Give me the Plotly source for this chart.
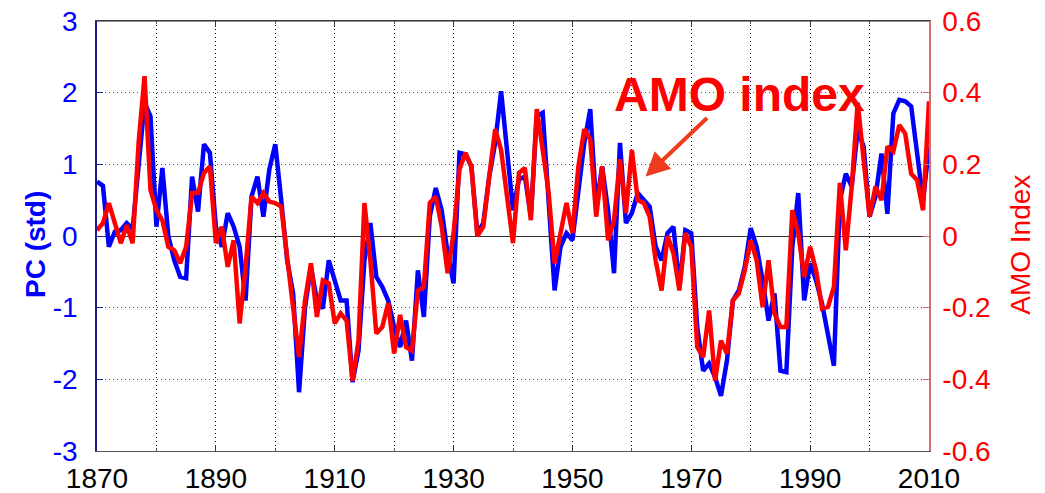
import plotly.graph_objects as go

years = list(range(1870, 2011))

pc_std = [
    0.76, 0.70, -0.15, 0.06, 0.08, 0.18, 0.10, 1.06, 1.86, 1.67,
    0.13, 0.95, 0.00, -0.34, -0.57, -0.59, 0.83, 0.34, 1.28, 1.16,
    0.13, -0.15, 0.32, 0.13, -0.15, -0.90, 0.55, 0.83, 0.27, 0.93,
    1.28, 0.50, -0.34, -0.80, -2.18, -1.00, -0.43, -0.90, -1.01, -0.34,
    -0.62, -0.90, -0.90, -2.04, -1.60, -0.34, 0.18, -0.57, -0.71, -0.90,
    -1.27, -1.55, -1.18, -1.74, -0.48, -1.13, 0.27, 0.67, 0.36, -0.24,
    -0.66, 1.16, 1.14, 0.97, 0.04, 0.18, 0.83, 1.30, 2.02, 1.20,
    0.36, 0.79, 0.83, 0.27, 1.67, 1.72, 0.50, -0.76, -0.15, 0.04,
    -0.06, 0.69, 1.30, 1.77, 0.41, 0.97, 0.36, -0.52, 1.30, 0.18,
    0.32, 0.60, 0.50, 0.41, -0.15, -0.34, 0.04, 0.13, -0.71, 0.08,
    0.04, -1.27, -1.88, -1.78, -1.97, -2.23, -1.74, -0.90, -0.76, -0.43,
    0.11, -0.15, -0.62, -1.18, -0.80, -1.88, -1.90, -0.15, 0.60, -0.90,
    -0.38, -0.62, -0.94, -1.36, -1.81, 0.50, 0.87, 0.69, 1.48, 1.25,
    0.27, 0.55, 1.15, 0.31, 1.71, 1.90, 1.88, 1.81, 1.15, 0.50,
    1.25,
]

amo_index = [
    0.016, 0.036, 0.092, 0.036, -0.020, 0.030, -0.020, 0.260, 0.446, 0.128,
    0.072, 0.044, -0.030, -0.040, -0.076, -0.030, 0.120, 0.120, 0.176, 0.194,
    -0.020, 0.026, -0.086, -0.012, -0.244, -0.086, 0.110, 0.092, 0.120, 0.096,
    0.092, 0.082, -0.068, -0.200, -0.338, -0.180, -0.076, -0.226, -0.124, -0.132,
    -0.244, -0.216, -0.236, -0.404, -0.292, 0.092, -0.068, -0.272, -0.254, -0.188,
    -0.328, -0.220, -0.310, -0.320, -0.152, -0.142, 0.092, 0.110, 0.026, -0.104,
    0.008, 0.186, 0.232, 0.194, 0.000, 0.026, 0.166, 0.298, 0.240, 0.120,
    -0.020, 0.176, 0.190, 0.044, 0.354, 0.240, 0.120, -0.076, 0.008, 0.092,
    0.008, 0.194, 0.298, 0.270, 0.054, 0.194, -0.012, 0.044, 0.214, 0.064,
    0.240, 0.100, 0.092, 0.054, -0.068, -0.152, 0.000, -0.048, -0.152, 0.008,
    -0.030, -0.310, -0.338, -0.208, -0.404, -0.292, -0.328, -0.180, -0.160, -0.096,
    -0.012, -0.068, -0.198, -0.068, -0.216, -0.254, -0.254, 0.072, 0.008, -0.114,
    -0.030, -0.096, -0.202, -0.198, -0.142, 0.148, -0.040, 0.138, 0.372, 0.202,
    0.054, 0.138, 0.100, 0.250, 0.236, 0.310, 0.286, 0.174, 0.156, 0.072,
    0.376,
]

x_ticks = [1870, 1890, 1910, 1930, 1950, 1970, 1990, 2010]
left_ticks = [-3, -2, -1, 0, 1, 2, 3]
left_labels = ["-3", "-2", "-1", "0", "1", "2", "3"]
right_ticks = [-0.6, -0.4, -0.2, 0, 0.2, 0.4, 0.6]
right_labels = ["-0.6", "-0.4", "-0.2", "0", "0.2", "0.4", "0.6"]

FONT = "Liberation Sans, Arial, Helvetica, sans-serif"
BLUE = "#0000ff"
RED = "#ff0000"

fig = go.Figure()
fig.add_trace(go.Scatter(x=years, y=pc_std, mode="lines", name="PC",
                         line=dict(color=BLUE, width=4.5), yaxis="y"))
fig.add_trace(go.Scatter(x=years, y=amo_index, mode="lines", name="AMO",
                         line=dict(color=RED, width=4.5), yaxis="y2"))

fig.update_layout(
    width=1045, height=493,
    margin=dict(l=97, r=116, t=21, b=42, autoexpand=False),
    paper_bgcolor="white", plot_bgcolor="white",
    showlegend=False,
    font=dict(family=FONT, size=28, color="black"),
    xaxis=dict(
        range=[1870, 2010], tickvals=x_ticks, ticktext=[str(v) for v in x_ticks],
        showgrid=True, gridcolor="#000000", griddash="1px,3px", gridwidth=1,
        minor=dict(dtick=10, tick0=1870, showgrid=True, gridcolor="#000000",
                   griddash="1px,3px", gridwidth=1, ticks="inside", ticklen=3,
                   tickcolor="#555555"),
        ticks="inside", ticklen=6, tickcolor="#333333",
        showline=True, linecolor="#555555", linewidth=1, mirror="ticks",
        zeroline=False, tickfont=dict(size=28, color="black"),
        ticklabelstandoff=2, automargin=False,
    ),
    yaxis=dict(
        range=[-3, 3], tickvals=left_ticks, ticktext=left_labels,
        showgrid=True, gridcolor="#8a2a6a", griddash="1px,3px", gridwidth=1,
        zeroline=True, zerolinecolor="#333333", zerolinewidth=1,
        ticks="inside", ticklen=6, tickcolor="#1a1a9c",
        showline=True, linecolor="#1a1a8c", linewidth=1.5,
        tickfont=dict(size=28, color=BLUE), ticklabelstandoff=12,
        automargin=False,
    ),
    yaxis2=dict(
        range=[-0.6, 0.6], tickvals=right_ticks, ticktext=right_labels,
        overlaying="y", side="right", showgrid=False, zeroline=False,
        ticks="inside", ticklen=6, tickcolor="#d07070",
        showline=True, linecolor="#d07070", linewidth=1.5,
        tickfont=dict(size=28, color=RED), ticklabelstandoff=6,
        automargin=False,
    ),
    shapes=[
        dict(type="line", xref="paper", yref="paper", x0=0, x1=1, y0=1, y1=1,
             line=dict(color="#222222", width=1)),
    ],
    annotations=[
        dict(text="<b>PC (std)</b>", xref="paper", yref="paper",
             x=-0.0745, y=0.479, textangle=-90, showarrow=False,
             font=dict(size=28, color=BLUE, family=FONT),
             xanchor="center", yanchor="middle"),
        dict(text="AMO Index", xref="paper", yref="paper",
             x=1.109, y=0.479, textangle=-90, showarrow=False,
             font=dict(size=28, color=RED, family=FONT),
             xanchor="center", yanchor="middle"),
        dict(text="<b>AMO index</b>", xref="x", yref="y",
             x=1978.1, y=1.97, showarrow=False,
             font=dict(size=48, color=RED, family=FONT),
             xanchor="center", yanchor="middle"),
        dict(text="", xref="x", yref="y", x=1962.3, y=0.83,
             ax=63, ay=-60, axref="pixel", ayref="pixel",
             showarrow=True, arrowhead=2, arrowsize=1.2, arrowwidth=4,
             arrowcolor="#f03c1e"),
    ],
)

fig.write_html("out.html")
